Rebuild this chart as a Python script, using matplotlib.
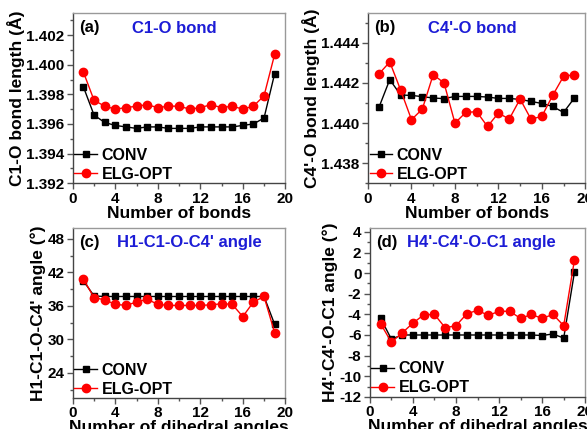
import matplotlib
matplotlib.use('Agg')
import matplotlib.pyplot as plt
from matplotlib.ticker import MultipleLocator
import numpy as np

plt.rcParams['font.family'] = ['Liberation Sans', 'DejaVu Sans']
plt.rcParams['font.weight'] = 'bold'

idx = np.arange(1, 20)

# (a) C1-O bond length
c1o_conv = [1.3985, 1.3966, 1.3961, 1.3959, 1.3958, 1.3957, 1.3958, 1.3958, 1.3957, 1.3957,
            1.3957, 1.3958, 1.3958, 1.3958, 1.3958, 1.3959, 1.3960, 1.3964, 1.3994]
c1o_elg = [1.3995, 1.3976, 1.3972, 1.3970, 1.3971, 1.3972, 1.3973, 1.3971, 1.3972, 1.3972,
           1.3970, 1.3971, 1.3973, 1.3971, 1.3972, 1.3970, 1.3972, 1.3979, 1.4007]

# (b) C4'-O bond length
c4o_conv = [1.44078, 1.44217, 1.44140, 1.44138, 1.44132, 1.44125, 1.44122, 1.44133, 1.44133, 1.44133,
            1.44130, 1.44123, 1.44123, 1.44118, 1.44108, 1.44098, 1.44083, 1.44053, 1.44125]
c4o_elg = [1.44245, 1.44305, 1.44165, 1.44017, 1.44070, 1.44242, 1.44200, 1.44000, 1.44053, 1.44057,
           1.43983, 1.44050, 1.44020, 1.44120, 1.44020, 1.44033, 1.44138, 1.44233, 1.44242]

# (c) H1-C1-O-C4' angle
h1_conv = [40.5, 37.8, 37.7, 37.7, 37.7, 37.7, 37.7, 37.7, 37.7, 37.7,
           37.7, 37.7, 37.7, 37.7, 37.7, 37.7, 37.7, 37.7, 32.7]
h1_elg = [40.8, 37.5, 37.1, 36.3, 36.1, 36.7, 37.2, 36.3, 36.1, 36.1,
          36.1, 36.1, 36.2, 36.4, 36.3, 34.1, 36.7, 37.7, 31.2]

# (d) H4'-C4'-O-C1 angle
h4_conv = [-4.37, -6.4, -6.0, -6.0, -6.0, -6.0, -6.0, -6.0, -6.0, -6.0,
           -6.0, -6.0, -6.0, -6.0, -6.0, -6.05, -5.9, -6.3, 0.1]
h4_elg = [-4.9, -6.7, -5.8, -4.85, -4.05, -4.0, -5.3, -5.1, -3.95, -3.6,
          -4.1, -3.7, -3.7, -4.4, -4.0, -4.4, -4.0, -5.1, 1.3]

panels = [
    ('(a)', 'C1-O bond', 'C1-O bond length (\u00c5)', 'Number of bonds',
     c1o_conv, c1o_elg, (1.392, 1.4035), 0.002, 0.001, '%.3f', 0.48,
     [0.124, 0.573, 0.362, 0.397]),
    ('(b)', "C4'-O bond", "C4'-O bond length (\u00c5)", 'Number of bonds',
     c4o_conv, c4o_elg, (1.437, 1.4455), 0.002, 0.001, '%.3f', 0.48,
     [0.627, 0.573, 0.370, 0.397]),
    ('(c)', "H1-C1-O-C4' angle", "H1-C1-O-C4' angle (\u00b0)", 'Number of dihedral angles',
     h1_conv, h1_elg, (19.5, 50), 6, 3, '%d', 0.55,
     [0.124, 0.072, 0.362, 0.397]),
    ('(d)', "H4'-C4'-O-C1 angle", "H4'-C4'-O-C1 angle (\u00b0)", 'Number of dihedral angles',
     h4_conv, h4_elg, (-12, 4.4), 2, 1, '%d', 0.52,
     [0.630, 0.075, 0.367, 0.394]),
]

fig = plt.figure(figsize=(5.87, 4.29), dpi=100)

for tag, title, ylab, xlab, conv, elg, ylim, major, minor, fmt, tx, rect in panels:
    ax = fig.add_axes(rect)
    ax.plot(idx, conv, '-s', color='black', ms=5, lw=1, label='CONV')
    ax.plot(idx, elg, '-o', color='red', mfc='red', mec='red', ms=6, lw=1, label='ELG-OPT')
    ax.set_xlim(0, 20)
    ax.set_ylim(*ylim)
    ax.xaxis.set_major_locator(MultipleLocator(4))
    ax.xaxis.set_minor_locator(MultipleLocator(2))
    ax.yaxis.set_major_locator(MultipleLocator(major))
    ax.yaxis.set_minor_locator(MultipleLocator(minor))
    ax.yaxis.set_major_formatter(matplotlib.ticker.FormatStrFormatter(fmt))
    ax.tick_params(which='both', direction='out', top=False, right=False,
                   labelsize=11, color='#555555', width=1, pad=2)
    ax.tick_params(which='major', length=4)
    ax.tick_params(which='minor', length=2.5)
    for lbl in ax.get_xticklabels() + ax.get_yticklabels():
        lbl.set_fontweight('bold')
    for s in ['left', 'bottom']:
        ax.spines[s].set_color('#444444')
        ax.spines[s].set_linewidth(1)
    for s in ['top', 'right']:
        ax.spines[s].set_color('#999999')
        ax.spines[s].set_linewidth(1)
    ax.set_xlabel(xlab, fontsize=12.5, fontweight='bold', labelpad=0)
    ax.set_ylabel(ylab, fontsize=12.5, fontweight='bold', labelpad=1)
    ax.text(0.03, 0.96, tag, transform=ax.transAxes, fontsize=12, fontweight='bold',
            va='top', ha='left')
    ax.text(tx, 0.955, title, transform=ax.transAxes, fontsize=12, fontweight='bold',
            va='top', ha='center', color='#1c1cd6')
    leg = ax.legend(loc='lower left', frameon=False, fontsize=11.5, handlelength=1.4,
                    handletextpad=0.3, borderaxespad=0.0, labelspacing=0.25,
                    borderpad=0.1)
    for t in leg.get_texts():
        t.set_fontweight('bold')

fig.savefig('out.png', dpi=100)
